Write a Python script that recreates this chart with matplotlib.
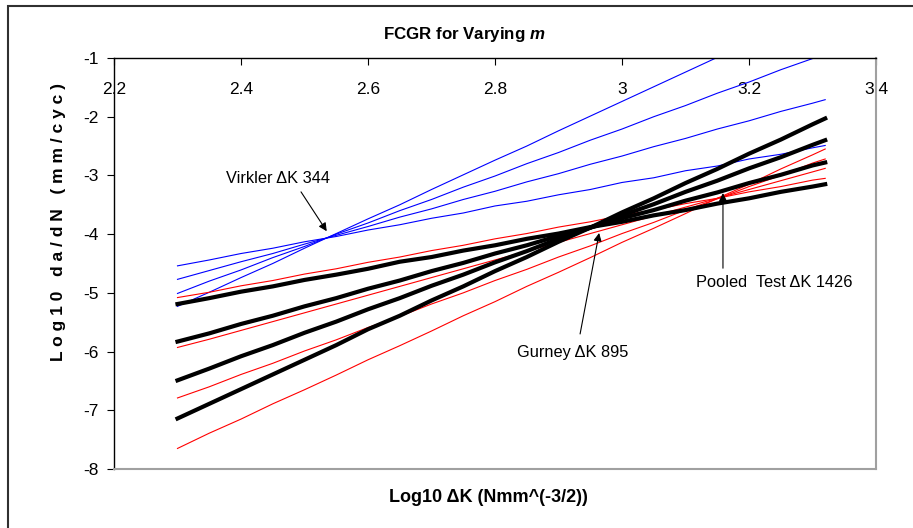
import matplotlib
matplotlib.use("Agg")
import matplotlib.pyplot as plt
from matplotlib.patches import Rectangle

plt.rcParams['font.family'] = ['Liberation Sans', 'DejaVu Sans']
plt.rcParams['mathtext.fontset'] = 'custom'
plt.rcParams['mathtext.bfit'] = 'Liberation Sans:italic:bold'

# log10 dK values where the curves were sampled
log_dk = [2.30, 2.35, 2.40, 2.45, 2.50, 2.55, 2.60, 2.65, 2.70, 2.75, 2.80,
          2.85, 2.90, 2.95, 3.00, 3.05, 3.10, 3.15, 3.20, 3.25, 3.30, 3.32]

# Virkler (blue), m = 2..5
virk_m2 = [-4.54, -4.44, -4.33, -4.24, -4.13, -4.04, -3.93, -3.84, -3.73, -3.64, -3.52,
           -3.44, -3.33, -3.24, -3.12, -3.04, -2.92, -2.84, -2.72, -2.64, -2.53, -2.49]
virk_m3 = [-4.77, -4.62, -4.47, -4.33, -4.17, -4.02, -3.87, -3.71, -3.57, -3.41, -3.27,
           -3.11, -2.97, -2.81, -2.67, -2.51, -2.37, -2.21, -2.07, -1.91, -1.77, -1.71]
virk_m4 = [-5.01, -4.80, -4.61, -4.40, -4.21, -4.00, -3.81, -3.60, -3.41, -3.20, -3.01,
           -2.80, -2.61, -2.40, -2.21, -2.00, -1.81, -1.60, -1.41, -1.20, -1.01, -0.93]
virk_m5 = [-5.23, -4.99, -4.74, -4.50, -4.24, -3.99, -3.74, -3.50, -3.24, -2.99, -2.74,
           -2.50, -2.24, -1.99, -1.74, -1.49, -1.24, -0.99, -0.74, -0.49, -0.24, -0.14]

# Pooled test (red), m = 2..5
pool_m2 = [-5.08, -4.99, -4.88, -4.79, -4.68, -4.59, -4.48, -4.39, -4.28, -4.19, -4.08,
           -3.99, -3.88, -3.79, -3.68, -3.59, -3.48, -3.39, -3.28, -3.19, -3.08, -3.05]
pool_m3 = [-5.93, -5.79, -5.64, -5.49, -5.34, -5.19, -5.04, -4.89, -4.74, -4.59, -4.44,
           -4.29, -4.14, -3.99, -3.84, -3.69, -3.54, -3.39, -3.24, -3.09, -2.94, -2.88]
pool_m4 = [-6.79, -6.60, -6.39, -6.20, -5.99, -5.80, -5.59, -5.40, -5.19, -5.00, -4.79,
           -4.60, -4.39, -4.20, -3.99, -3.80, -3.59, -3.40, -3.19, -3.00, -2.79, -2.72]
pool_m5 = [-7.65, -7.39, -7.15, -6.89, -6.65, -6.40, -6.14, -5.90, -5.65, -5.39, -5.15,
           -4.89, -4.65, -4.40, -4.14, -3.90, -3.65, -3.39, -3.15, -2.89, -2.65, -2.55]

# Gurney (black), m = 2..5
gur_m2 = [-5.19, -5.09, -4.98, -4.89, -4.78, -4.69, -4.59, -4.47, -4.39, -4.28, -4.19,
          -4.08, -3.99, -3.88, -3.79, -3.68, -3.59, -3.48, -3.39, -3.28, -3.19, -3.15]
gur_m3 = [-5.83, -5.69, -5.53, -5.39, -5.23, -5.09, -4.93, -4.79, -4.63, -4.49, -4.33,
          -4.19, -4.03, -3.89, -3.73, -3.59, -3.43, -3.29, -3.13, -2.99, -2.83, -2.78]
gur_m4 = [-6.49, -6.29, -6.08, -5.89, -5.68, -5.49, -5.28, -5.09, -4.88, -4.69, -4.48,
          -4.29, -4.08, -3.89, -3.68, -3.49, -3.28, -3.09, -2.88, -2.69, -2.48, -2.40]
gur_m5 = [-7.14, -6.89, -6.64, -6.39, -6.14, -5.89, -5.62, -5.39, -5.13, -4.89, -4.63,
          -4.39, -4.13, -3.89, -3.63, -3.39, -3.13, -2.89, -2.63, -2.39, -2.13, -2.03]

xticks = [2.2, 2.4, 2.6, 2.8, 3.0, 3.2, 3.4]
xtick_labels = ["2.2", "2.4", "2.6", "2.8", "3", "3.2", "3.4"]
yticks = [-8, -7, -6, -5, -4, -3, -2, -1]

fig = plt.figure(figsize=(9.13, 5.28), dpi=100)
ax = fig.add_axes([114/913, 1 - 469/528, 762/913, 411/528])

for ys in [virk_m2, virk_m3, virk_m4, virk_m5]:
    ax.plot(log_dk, ys, color='#0000ff', lw=0.8)
for ys in [pool_m2, pool_m3, pool_m4, pool_m5]:
    ax.plot(log_dk, ys, color='#ff0000', lw=0.8)
for ys in [gur_m2, gur_m3, gur_m4, gur_m5]:
    ax.plot(log_dk, ys, color='black', lw=3)

ax.set_xlim(2.2, 3.4)
ax.set_ylim(-8, -1)
ax.set_xticks(xticks)
ax.set_xticklabels(xtick_labels)
ax.set_yticks(yticks)
ax.set_yticklabels([str(v) for v in yticks])

ax.xaxis.set_ticks_position('top')
ax.tick_params(axis='x', direction='in', length=5, width=0.8, labelsize=12.5,
               top=True, bottom=False, labeltop=True, labelbottom=False, pad=-28)
ax.tick_params(axis='y', direction='out', length=5, width=0.8, labelsize=12.5, pad=6)

ax.spines['left'].set_color('black')
ax.spines['top'].set_color('black')
ax.spines['left'].set_linewidth(1)
ax.spines['top'].set_linewidth(1)
ax.spines['right'].set_color('#a0a0a0')
ax.spines['bottom'].set_color('#a0a0a0')
ax.spines['right'].set_linewidth(1.5)
ax.spines['bottom'].set_linewidth(1.5)

# callouts: label text, then a separate arrow from tail to head
arrow = dict(arrowstyle='-|>', color='black', lw=0.8, mutation_scale=12, shrinkA=0, shrinkB=0)
ax.text(2.458, -3.06, "Virkler \u0394K 344", ha='center', va='center', fontsize=11.8)
ax.annotate("", xy=(2.535, -3.95), xytext=(2.4945, -3.28), arrowprops=arrow)
ax.text(2.923, -6.01, "Gurney \u0394K 895", ha='center', va='center', fontsize=11.8)
ax.annotate("", xy=(2.964, -3.98), xytext=(2.934, -5.70), arrowprops=arrow)
ax.text(3.240, -4.83, "Pooled  Test \u0394K 1426", ha='center', va='center', fontsize=11.8)
ax.annotate("", xy=(3.159, -3.30), xytext=(3.159, -4.58), arrowprops=arrow)

fig.text(464/913, 1 - 34/528, r"FCGR for Varying $\mathbfit{m}$", ha='center', va='center',
         fontsize=12.2, fontweight='bold')
fig.text(488/913, 1 - 497/528, "Log10 \u0394K (Nmm^(-3/2))", ha='center', va='center',
         fontsize=13, fontweight='bold')
fig.text(58/913, 1 - 222/528, "L o g 1 0   d a / d N   ( m m / c y c )", ha='center', va='center',
         rotation=90, fontsize=12.5, fontweight='bold')

# chart area frame (only left and top edges fall inside the image)
fig.add_artist(Rectangle((7.5/913, -0.1), 1.2, 1.1 - 5.5/528, transform=fig.transFigure,
                         fill=False, edgecolor='#303030', lw=1.5))

fig.savefig("out.png", dpi=100)
